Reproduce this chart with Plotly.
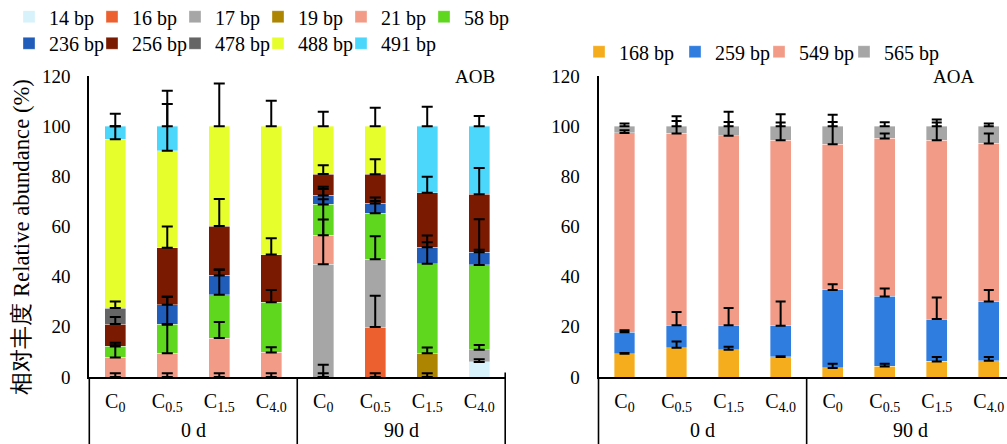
import plotly.graph_objects as go

# ---------------- categories ----------------
day_groups = ["0 d", "90 d"]
treatments = ["C<sub>0</sub>", "C<sub>0.5</sub>", "C<sub>1.5</sub>", "C<sub>4.0</sub>"] * 2
positions = list(range(len(treatments)))   # bar slots, 4 per day group

# ---------------- AOB (left panel) ----------------
aob_names = ["14 bp", "16 bp", "17 bp", "19 bp", "21 bp", "58 bp",
             "236 bp", "256 bp", "478 bp", "488 bp", "491 bp"]
aob_colors = ["#D7F2FA", "#EC6030", "#A6A6A6", "#AE8500", "#F29C88", "#60D71F",
              "#205CBA", "#7A1A00", "#656565", "#E6FF2C", "#4AD7FB"]

v14 = [0, 0, 0, 0, 0, 0, 0, 6.0]
v16 = [0, 0, 0, 0, 0, 19.9, 0, 0]
v17 = [0, 0, 0, 0, 45.0, 27.0, 0, 4.9]
v19 = [0, 0, 0, 0, 0, 0, 9.5, 0]
v21 = [7.8, 9.5, 15.5, 9.8, 11.5, 0, 0, 0]
v58 = [4.4, 11.6, 17.3, 20.0, 12.3, 18.4, 35.6, 33.8]
v236 = [0, 7.7, 7.7, 0, 3.6, 3.9, 6.6, 5.0]
v256 = [8.9, 22.7, 19.7, 19.0, 8.5, 11.6, 21.8, 23.2]
v478 = [6.4, 0, 0, 0, 0, 0, 0, 0]
v488 = [67.3, 38.7, 39.8, 51.2, 19.1, 19.2, 0, 0]
v491 = [5.2, 9.8, 0, 0, 0, 0, 26.5, 27.1]

e14 = [1.5, 1.5, 1.5, 1.5, 1.5, 1.5, 1.5, 1.1]
e16 = [0, 0, 0, 0, 4.9, 12.5, 0, 0]
e17 = [0, 0, 0, 0, 30.0, 9.2, 0, 1.9]
e19 = [0, 0, 0, 0, 0, 0, 2.3, 0]
e21 = [5.9, 11.3, 6.4, 2.1, 6.3, 0, 0, 0]
e58 = [0.5, 10.9, 10.0, 4.9, 2.1, 6.3, 8.6, 6.0]
e236 = [0, 3.2, 2.4, 0, 3.4, 1.0, 4.7, 13.2]
e256 = [2.8, 8.5, 10.8, 6.5, 3.5, 6.0, 6.3, 10.4]
e478 = [2.6, 0, 0, 0, 0, 0, 0, 0]
e488 = [5.2, 18.6, 17.0, 10.1, 5.7, 7.3, 0, 0]
e491 = [5.0, 14.1, 0, 0, 0, 0, 7.7, 4.1]

aob_values = [v14, v16, v17, v19, v21, v58, v236, v256, v478, v488, v491]
aob_errors = [e14, e16, e17, e19, e21, e58, e236, e256, e478, e488, e491]

# ---------------- AOA (right panel) ----------------
aoa_names = ["168 bp", "259 bp", "549 bp", "565 bp"]
aoa_colors = ["#F6AD1D", "#307DE0", "#F29C88", "#A6A6A6"]

v168 = [9.3, 11.7, 10.9, 8.0, 3.6, 4.2, 6.2, 6.5]
v259 = [8.5, 8.9, 9.7, 12.4, 31.1, 27.9, 16.9, 23.6]
v549 = [79.5, 76.5, 75.6, 74.0, 58.1, 63.0, 71.3, 63.0]
v565 = [2.7, 2.9, 3.8, 5.6, 7.2, 4.9, 5.6, 6.9]

e168 = [0.3, 2.5, 1.2, 0.3, 1.7, 1.1, 1.8, 1.5]
e259 = [0.8, 5.3, 6.9, 9.7, 2.3, 3.2, 8.6, 4.6]
e549 = [1.1, 5.0, 5.5, 7.1, 8.9, 2.0, 7.1, 4.0]
e565 = [1.1, 4.0, 5.7, 4.8, 4.6, 1.6, 2.7, 1.1]

aoa_values = [v168, v259, v549, v565]
aoa_errors = [e168, e259, e549, e565]

FONT = "Liberation Serif"
W, H = 1007, 444
ML, MR, MT, MB = 0, 0, 76, 67
PH = H - MT - MB
BOTTOM = -MB / PH          # paper y of the figure's bottom edge

fig = go.Figure()


def add_panel(names, colors, values, errors, xa, ya, legends, lwidths, capw):
    # stacked bars
    for nm, col, vals, lg, lw in zip(names, colors, values, legends, lwidths):
        fig.add_trace(go.Bar(
            x=positions, y=[v if v > 0 else None for v in vals], name=nm,
            marker=dict(color=col, line=dict(color="rgba(255,255,255,0.6)", width=0.6)),
            width=0.4, xaxis=xa, yaxis=ya, legend=lg, legendwidth=lw,
            hovertemplate="%{y}<extra>" + nm + "</extra>",
        ))
    # error bars, drawn above every bar at the top of each stacked segment
    cum = [0.0] * len(positions)
    for vals, errs in zip(values, errors):
        cum = [c + v for c, v in zip(cum, vals)]
        tops = [c if e > 0 else None for c, e in zip(cum, errs)]
        fig.add_trace(go.Scatter(
            x=positions, y=tops, mode="markers",
            marker=dict(size=1, color="rgba(0,0,0,0)"),
            error_y=dict(type="data", array=errs, arrayminus=[0] * len(errs),
                         symmetric=False, color="black", thickness=2, width=capw),
            xaxis=xa, yaxis=ya, showlegend=False, hoverinfo="skip",
        ))


add_panel(aob_names, aob_colors, aob_values, aob_errors, "x", "y",
          ["legend"] * 6 + ["legend2"] * 5,
          [38] * 5 + [60] + [38] * 4 + [60], 5.5)
add_panel(aoa_names, aoa_colors, aoa_values, aoa_errors, "x2", "y2",
          ["legend3"] * 4, [51, 39, 40, 60], 5)

axis_common = dict(showline=True, linecolor="black", linewidth=1.8, showgrid=False,
                   zeroline=False, ticks="")

yaxis_common = dict(axis_common, range=[0, 120], dtick=20, ticklabelstandoff=13,
                    tickfont=dict(family=FONT, size=19, color="black"))

xaxis_common = dict(axis_common, tickmode="array", tickvals=positions, ticktext=treatments,
                    ticklabelstandoff=5, tickfont=dict(family=FONT, size=20, color="black"))

legend_common = dict(orientation="h", font=dict(family=FONT, size=20, color="black"),
                     bgcolor="rgba(0,0,0,0)", yanchor="middle", xanchor="left",
                     itemclick=False, traceorder="normal")

# group labels under each half of both panels, and the group dividers
annotations = []
shapes = []
for xa, xdom in (("x", "x domain"), ("x2", "x2 domain")):
    for g, name in enumerate(day_groups):
        annotations.append(dict(text=name, xref=xa, yref="paper", x=g * 4 + 1.5,
                                y=(377 - 430) / PH, xanchor="center", yanchor="middle",
                                showarrow=False, font=dict(family=FONT, size=20)))
    shapes.append(dict(type="line", xref=xdom, yref="paper", x0=0, x1=0, y0=0, y1=BOTTOM,
                       line=dict(color="black", width=1.6)))
    shapes.append(dict(type="line", xref=xa, yref="paper", x0=3.5, x1=3.5, y0=0, y1=BOTTOM,
                       line=dict(color="black", width=1.6)))
shapes.append(dict(type="line", xref="x domain", yref="paper", x0=1, x1=1,
                   y0=4.5 / PH, y1=BOTTOM, line=dict(color="black", width=1.6)))

annotations += [
    dict(text="AOB", xref="paper", yref="paper", x=497 / W, y=(H - MB - 76) / PH,
         xanchor="right", yanchor="middle", showarrow=False,
         font=dict(family=FONT, size=19)),
    dict(text="AOA", xref="paper", yref="paper", x=976 / W, y=(H - MB - 76) / PH,
         xanchor="right", yanchor="middle", showarrow=False,
         font=dict(family=FONT, size=19)),
    dict(text="相对丰度 Relative abundance (%)", xref="paper", yref="paper",
         x=22 / W, y=(H - MB - 236.7) / PH, xanchor="center", yanchor="middle",
         textangle=-90, showarrow=False, font=dict(family=FONT, size=22.7)),
]

fig.update_layout(
    width=W, height=H,
    margin=dict(l=ML, r=MR, t=MT, b=MB, pad=0, autoexpand=False),
    paper_bgcolor="white", plot_bgcolor="white",
    barmode="stack",
    font=dict(family=FONT, size=20, color="black"),
    xaxis=dict(xaxis_common, domain=[89.3 / W, 505.2 / W], range=[-0.5, 7.5]),
    xaxis2=dict(xaxis_common, domain=[598.5 / W, 1.0], range=[-0.5, 7.35]),
    yaxis=dict(yaxis_common, anchor="x"),
    yaxis2=dict(yaxis_common, anchor="x2"),
    legend=dict(legend_common, x=9 / W, y=(H - MB - 16.7) / PH),
    legend2=dict(legend_common, x=9 / W, y=(H - MB - 43.3) / PH),
    legend3=dict(legend_common, x=579 / W, y=(H - MB - 51.7) / PH),
    showlegend=True,
    annotations=annotations,
    shapes=shapes,
)

fig.write_html("out.html", config={"displayModeBar": False},
               post_script="document.body.style.margin='0';document.body.style.overflow='hidden';")
